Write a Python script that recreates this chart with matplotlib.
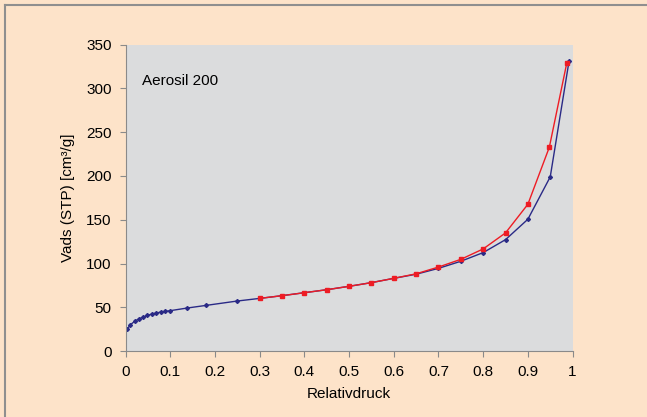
import matplotlib
matplotlib.use("Agg")
import matplotlib.pyplot as plt
from matplotlib.lines import Line2D

# adsorption branch (blue) and desorption branch (red)
p_ads = [0.004, 0.010, 0.021, 0.031, 0.040, 0.049, 0.059, 0.069, 0.079, 0.089, 0.099,
         0.138, 0.180, 0.250, 0.300, 0.350, 0.400, 0.450, 0.500, 0.550, 0.600, 0.650,
         0.700, 0.750, 0.800, 0.850, 0.900, 0.950, 0.992]
v_ads = [25.2, 29.7, 34.3, 37.0, 38.9, 40.8, 42.3, 43.5, 44.6, 45.4, 46.1,
         49.2, 52.2, 57.2, 60.2, 63.3, 66.7, 70.1, 74.0, 78.2, 83.1, 87.8,
         94.5, 102.6, 112.5, 127.3, 150.6, 199.0, 331.0]

p_des = [0.300, 0.350, 0.400, 0.450, 0.500, 0.550, 0.600, 0.650, 0.700, 0.750,
         0.800, 0.850, 0.900, 0.948, 0.987]
v_des = [60.2, 63.3, 66.7, 70.1, 74.0, 78.2, 83.1, 88.3, 96.0, 104.8,
         116.7, 135.0, 167.7, 232.9, 329.0]

x_ticks = [0, 0.1, 0.2, 0.3, 0.4, 0.5, 0.6, 0.7, 0.8, 0.9, 1]
x_labels = ["0", "0.1", "0.2", "0.3", "0.4", "0.5", "0.6", "0.7", "0.8", "0.9", "1"]
y_ticks = [0, 50, 100, 150, 200, 250, 300, 350]

plt.rcParams["font.family"] = ["Liberation Sans", "DejaVu Sans"]

fig = plt.figure(figsize=(6.47, 4.17), dpi=100, facecolor="#fde3c9")
# thin grey frame only on top and left edge
fig.add_artist(Line2D([4.5 / 647, 1], [1 - 4.5 / 417, 1 - 4.5 / 417],
                      transform=fig.transFigure, color="#8f8f8f", lw=1.5))
fig.add_artist(Line2D([4.5 / 647, 4.5 / 647], [0, 1 - 4.5 / 417],
                      transform=fig.transFigure, color="#8f8f8f", lw=1.5))

ax = fig.add_axes([0.194, 0.158, 0.691, 0.735])
ax.set_facecolor("#dbdcdd")

ax.plot(p_ads, v_ads, color="#2a2a86", lw=1, marker="D", ms=2.0, zorder=2)
ax.plot(p_des, v_des, color="#ee1c24", lw=1, marker="s", ms=3, zorder=3)

ax.set_xlim(0, 1)
ax.set_ylim(0, 350)
ax.set_xticks(x_ticks)
ax.set_xticklabels(x_labels)
ax.set_yticks(y_ticks)
ax.tick_params(direction="out", length=4, color="#8a8a8a", labelsize=11, pad=6)

for side in ["top", "right"]:
    ax.spines[side].set_visible(False)
for side in ["left", "bottom"]:
    ax.spines[side].set_color("#8a8a8a")

ax.set_xlabel("Relativdruck", fontsize=11, labelpad=6)
ax.set_ylabel("Vads (STP) [cm³/g]", fontsize=11, labelpad=8)
ax.text(0.037, 309, "Aerosil 200", fontsize=11, va="center")

fig.savefig("out.png", dpi=100, facecolor=fig.get_facecolor())
